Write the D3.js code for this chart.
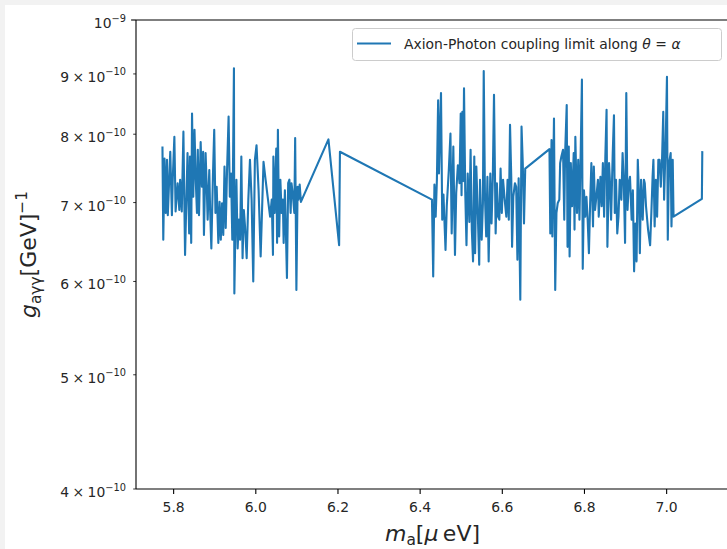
<!DOCTYPE html>
<html>
<head>
<meta charset="utf-8">
<script src="https://cdn.jsdelivr.net/npm/d3@7"></script>
<style>
  body { margin: 0; background: #fff; }
  svg { display: block; font-family: "DejaVu Sans", sans-serif; }
</style>
</head>
<body>
<div id="chart"></div>
<script>
// coupling limit g_ayy in units of 1e-10 GeV^-1, mass in ueV
const scanA = [
  [5.774,7.81],[5.776,6.51],[5.779,7.63],[5.782,6.86],[5.785,7.61],[5.787,6.83],[5.793,7.73],[5.797,6.83],
  [5.799,7.32],[5.803,7.96],[5.806,6.88],[5.811,7.27],[5.815,6.90],[5.817,7.32],[5.821,6.88],[5.825,8.04],
  [5.829,6.32],[5.835,7.71],[5.839,6.59],[5.841,7.66],[5.844,6.47],[5.846,8.33],[5.849,7.08],[5.852,8.07],
  [5.855,7.32],[5.858,6.86],[5.860,7.76],[5.863,6.83],[5.867,7.88],[5.870,7.22],[5.873,7.73],[5.875,6.57],
  [5.879,7.71],[5.882,7.17],[5.884,6.77],[5.888,7.46],[5.890,6.90],[5.893,6.40],[5.897,7.41],[5.900,8.07],
  [5.903,6.86],[5.906,7.22],[5.910,6.47],[5.913,7.01],[5.916,6.51],[5.919,6.99],[5.922,6.57],[5.925,7.51],
  [5.928,6.66],[5.931,7.41],[5.935,8.28],[5.938,7.08],[5.941,7.41],[5.944,6.51],[5.948,9.10],[5.949,5.86],
  [5.952,6.81],[5.954,7.32],[5.957,6.40],[5.960,6.77],[5.963,6.51],[5.966,7.66],[5.969,6.28],[5.972,6.90],
  [5.975,6.68],[5.979,6.28],[5.983,7.04],[5.987,7.61],[5.991,7.04],[5.995,6.00],[5.999,7.61],[6.003,7.83],
  [6.008,7.17],[6.013,6.30],[6.020,7.58],[6.025,7.32],[6.030,7.08],[6.036,6.81],[6.040,7.04],[6.043,6.32],
  [6.044,7.66],[6.047,6.86],[6.051,7.78],[6.053,6.47],[6.055,8.07],[6.058,6.55],[6.061,7.32],[6.064,6.86],
  [6.067,7.04],[6.069,6.47],[6.072,7.17],[6.074,6.72],[6.077,6.04],[6.080,7.27],[6.083,7.32],[6.086,6.86],
  [6.088,7.27],[6.091,7.13],[6.095,6.86],[6.097,7.94],[6.100,5.90],[6.103,7.22],[6.105,7.04],[6.108,7.25],
  [6.111,7.01],[6.178,7.92],[6.204,6.44],[6.206,7.73]
];

const scanB = [
  [6.430,7.04],[6.433,6.06],[6.436,7.25],[6.439,6.81],[6.442,7.32],[6.445,8.55],[6.447,7.41],[6.452,8.67],
  [6.455,6.77],[6.458,7.11],[6.463,6.38],[6.466,6.95],[6.471,7.46],[6.475,8.01],[6.478,6.59],[6.482,7.81],
  [6.486,6.32],[6.489,7.13],[6.493,7.53],[6.497,7.27],[6.500,8.33],[6.502,7.10],[6.504,8.36],[6.506,7.30],
  [6.508,8.75],[6.511,7.15],[6.514,6.44],[6.517,7.41],[6.521,6.74],[6.524,7.76],[6.527,6.64],[6.530,6.24],
  [6.533,7.66],[6.535,6.34],[6.538,7.51],[6.542,6.77],[6.545,6.20],[6.547,7.32],[6.551,6.51],[6.554,6.99],
  [6.556,9.05],[6.559,7.08],[6.562,6.55],[6.565,7.36],[6.568,6.24],[6.572,7.41],[6.575,6.72],[6.578,7.32],
  [6.581,8.64],[6.585,6.59],[6.588,7.27],[6.591,6.81],[6.594,6.77],[6.597,7.48],[6.600,6.86],[6.603,7.32],
  [6.607,7.04],[6.611,6.81],[6.614,7.32],[6.617,6.77],[6.620,8.15],[6.623,7.36],[6.625,6.42],[6.628,7.08],
  [6.632,7.27],[6.635,7.22],[6.638,6.26],[6.641,7.34],[6.645,5.79],[6.648,8.12],[6.651,7.56],[6.654,6.72],
  [6.657,7.48]
];

const scanC = [
  [6.716,7.77],[6.718,6.59],[6.721,7.91],[6.723,6.55],[6.727,8.25],[6.730,5.90],[6.733,6.86],[6.736,6.99],
  [6.740,7.04],[6.742,7.56],[6.745,7.66],[6.749,7.76],[6.752,6.77],[6.754,7.68],[6.758,8.47],[6.760,6.42],
  [6.763,7.81],[6.765,6.30],[6.768,7.56],[6.771,6.95],[6.775,7.71],[6.777,6.64],[6.779,7.96],[6.783,6.86],
  [6.786,7.61],[6.789,6.77],[6.792,7.71],[6.795,8.90],[6.797,6.15],[6.800,7.17],[6.803,6.81],[6.806,7.08],
  [6.809,6.77],[6.812,6.34],[6.815,6.99],[6.818,7.56],[6.822,6.68],[6.824,7.51],[6.827,6.90],[6.831,7.13],
  [6.834,7.32],[6.836,6.81],[6.840,7.36],[6.843,6.95],[6.846,7.56],[6.849,6.81],[6.852,7.66],[6.855,8.39],
  [6.857,6.42],[6.861,7.56],[6.863,7.32],[6.866,6.77],[6.870,7.71],[6.873,8.30],[6.875,6.86],[6.878,7.32],
  [6.881,6.59],[6.884,6.81],[6.887,7.32],[6.891,7.04],[6.894,7.71],[6.897,7.27],[6.900,6.47],[6.903,8.67],
  [6.906,6.90],[6.909,7.27],[6.912,7.36],[6.916,6.77],[6.919,7.17],[6.922,6.12],[6.925,6.72],[6.928,6.24],
  [6.931,7.61],[6.934,7.08],[6.936,6.34],[6.939,7.32],[6.943,6.77],[6.946,7.32],[6.948,7.27],[6.951,6.95],
  [6.956,6.64],[6.961,6.44],[6.964,6.86],[6.967,7.36],[6.969,7.61],[6.972,6.68],[6.975,7.32],[6.978,6.81],
  [6.981,7.61],[6.984,7.61],[6.987,7.22],[6.990,7.61],[6.993,8.36],[6.995,7.04],[6.999,7.91],[7.002,8.95],
  [7.004,6.51],[7.007,7.56],[7.011,7.71],[7.013,6.68],[7.016,7.61],[7.018,6.81],[7.087,7.05],[7.088,7.74]
];

const xDomain = [5.7096, 7.153];
const yDomain = [4, 10];
const xTicks = [5.8, 6.0, 6.2, 6.4, 6.6, 6.8, 7.0];
const yTicks = [4, 5, 6, 7, 8, 9, 10];
const legendLabel = "Axion-Photon coupling limit along ";

const width = 727, height = 549;
const plot = { left: 136, top: 20, right: 729, bottom: 489 };
const lineColor = "#1f77b4";
const textColor = "#262626";

const svg = d3.select("#chart").append("svg")
    .attr("width", width)
    .attr("height", height);

// figure background (thin grey frame on the top/left edge)
svg.append("rect").attr("width", width).attr("height", height).attr("fill", "#f2f2f2");
svg.append("rect").attr("x", 5).attr("y", 5).attr("width", width).attr("height", height).attr("fill", "#fff");

const x = d3.scaleLinear().domain(xDomain).range([plot.left, plot.right]);
const y = d3.scaleLog().domain(yDomain).range([plot.bottom, plot.top]);

svg.append("clipPath").attr("id", "clip")
  .append("rect")
    .attr("x", plot.left).attr("y", plot.top)
    .attr("width", plot.right - plot.left).attr("height", plot.bottom - plot.top);

// limit curve
const allPoints = scanA.concat(scanB, scanC);
const line = d3.line().x(d => x(d[0])).y(d => y(d[1]));

svg.append("path")
    .datum(allPoints)
    .attr("clip-path", "url(#clip)")
    .attr("d", line)
    .attr("fill", "none")
    .attr("stroke", lineColor)
    .attr("stroke-width", 2.1)
    .attr("stroke-linejoin", "round");

// x axis
const xAxis = svg.append("g")
    .attr("transform", `translate(0,${plot.bottom})`)
    .call(d3.axisBottom(x).tickValues(xTicks).tickSize(4.9).tickPadding(8).tickFormat(d3.format(".1f")));
xAxis.select(".domain").remove();
xAxis.selectAll(".tick line").attr("stroke", "#000").attr("stroke-width", 1.1);
xAxis.selectAll(".tick text")
    .attr("font-family", "DejaVu Sans")
    .attr("font-size", 13.9)
    .attr("fill", textColor);

// y axis (log, with labelled minor ticks)
const yAxis = svg.append("g");
const yTick = yAxis.selectAll(".ytick")
    .data(yTicks)
    .enter()
    .append("g")
    .attr("class", "ytick")
    .attr("transform", d => `translate(0,${y(d)})`);

yTick.append("line")
    .attr("x1", d => plot.left - (d === 10 ? 4.9 : 2.8))
    .attr("x2", plot.left)
    .attr("stroke", "#000")
    .attr("stroke-width", d => d === 10 ? 1.1 : 0.8);

const yLabel = yTick.append("text")
    .attr("x", plot.left - 10)
    .attr("y", 8)
    .attr("text-anchor", "end")
    .attr("font-size", 13.9)
    .attr("fill", textColor);
yLabel.append("tspan").text(d => d === 10 ? "10" : `${d}\u2005×\u200510`);
yLabel.append("tspan")
    .attr("dy", -6.5)
    .attr("font-size", 9.8)
    .text(d => d === 10 ? "\u22129" : "\u221210");

// spines
const spine = svg.append("g").attr("stroke", "#000").attr("stroke-width", 1.1);
spine.append("line").attr("x1", plot.left).attr("x2", plot.left).attr("y1", plot.top).attr("y2", plot.bottom);
spine.append("line").attr("x1", plot.left).attr("x2", plot.right).attr("y1", plot.bottom).attr("y2", plot.bottom);
spine.append("line").attr("x1", plot.left).attr("x2", plot.right).attr("y1", plot.top).attr("y2", plot.top);
spine.append("line").attr("x1", plot.right).attr("x2", plot.right).attr("y1", plot.top).attr("y2", plot.bottom);

// axis titles
const xTitle = svg.append("text")
    .attr("x", (plot.left + plot.right) / 2)
    .attr("y", 541)
    .attr("text-anchor", "middle")
    .attr("font-size", 22)
    .attr("fill", textColor);
xTitle.append("tspan").attr("font-style", "italic").text("m");
xTitle.append("tspan").attr("font-size", 15.4).attr("dy", 4).text("a");
xTitle.append("tspan").attr("dy", -4).text("[");
xTitle.append("tspan").attr("font-style", "italic").text("μ");
xTitle.append("tspan").text("\u2009eV]");

const yTitle = svg.append("text")
    .attr("transform", `translate(36,${(plot.top + plot.bottom) / 2}) rotate(-90)`)
    .attr("text-anchor", "middle")
    .attr("font-size", 22)
    .attr("fill", textColor);
yTitle.append("tspan").attr("font-style", "italic").text("g");
yTitle.append("tspan").attr("font-size", 15.4).attr("dy", 4.5).text("aγγ");
yTitle.append("tspan").attr("dy", -4.5).text("[GeV]");
yTitle.append("tspan").attr("font-size", 15.4).attr("dy", -9).text("\u22121");

// legend
const legend = svg.append("g");
legend.append("rect")
    .attr("x", 352.5).attr("y", 28.5)
    .attr("width", 369).attr("height", 32)
    .attr("rx", 3)
    .attr("fill", "#fff").attr("fill-opacity", 0.8)
    .attr("stroke", "#cccccc").attr("stroke-width", 1);
legend.append("line")
    .attr("x1", 357).attr("x2", 391)
    .attr("y1", 43.5).attr("y2", 43.5)
    .attr("stroke", lineColor).attr("stroke-width", 2.1);
const legendText = legend.append("text")
    .attr("x", 404).attr("y", 48.5)
    .attr("font-size", 13.9)
    .attr("fill", textColor);
legendText.append("tspan").text(legendLabel);
legendText.append("tspan").attr("font-style", "italic").text("θ");
legendText.append("tspan").text("\u2004=\u2004");
legendText.append("tspan").attr("font-style", "italic").text("α");
</script>
</body>
</html>
